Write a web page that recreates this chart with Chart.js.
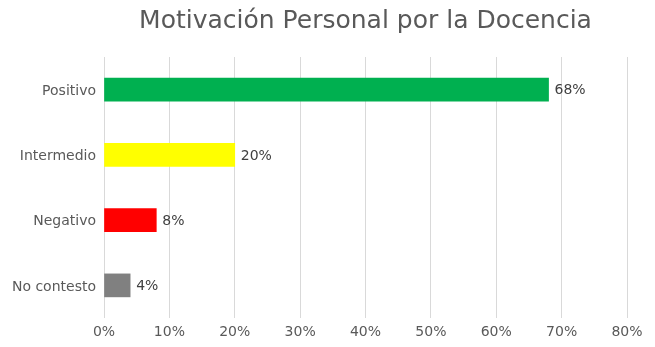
<!DOCTYPE html>
<html>
<head>
<meta charset="utf-8">
<script src="https://cdn.jsdelivr.net/npm/chart.js@4"></script>
<style>
  html, body { margin: 0; padding: 0; background: #fff; }
  #wrap { width: 655px; height: 347px; }
</style>
</head>
<body>
<div id="wrap"><canvas id="chart" width="655" height="347"></canvas></div>
<script>
// datos del gráfico
const chartTitle = 'Motivación Personal por la Docencia';
const categories = ['Positivo', 'Intermedio', 'Negativo', 'No contesto'];
const values = [68, 20, 8, 4];
const barColors = ['#00b050', '#ffff00', '#ff0000', '#808080'];
const xTicks = [0, 10, 20, 30, 40, 50, 60, 70, 80];

// título centrado sobre el área del gráfico
const plotTitle = {
  id: 'plotTitle',
  afterDraw(chart) {
    const ctx = chart.ctx;
    const area = chart.chartArea;
    ctx.save();
    ctx.font = '25px "DejaVu Sans"';
    ctx.fillStyle = '#595959';
    ctx.textAlign = 'center';
    ctx.textBaseline = 'middle';
    ctx.fillText(chartTitle, (area.left + area.right) / 2, 21);
    ctx.restore();
  }
};

// etiquetas de valor a la derecha de cada barra
const valueLabels = {
  id: 'valueLabels',
  afterDatasetsDraw(chart) {
    const ctx = chart.ctx;
    const meta = chart.getDatasetMeta(0);
    ctx.save();
    ctx.font = '14px "DejaVu Sans"';
    ctx.fillStyle = '#404040';
    ctx.textAlign = 'left';
    ctx.textBaseline = 'middle';
    meta.data.forEach((bar, i) => {
      ctx.fillText(values[i] + '%', bar.x + 6, bar.y + 1);
    });
    ctx.restore();
  }
};

new Chart(document.getElementById('chart'), {
  type: 'bar',
  data: {
    labels: categories,
    datasets: [{
      data: values,
      backgroundColor: barColors,
      borderWidth: 0,
      barThickness: 23
    }]
  },
  options: {
    indexAxis: 'y',
    responsive: false,
    animation: false,
    layout: { padding: { left: 0, right: 28, top: 57, bottom: 0 } },
    plugins: {
      legend: { display: false },
      tooltip: { enabled: false },
      title: { display: false }
    },
    scales: {
      x: {
        min: 0,
        max: 80,
        afterBuildTicks: axis => { axis.ticks = xTicks.map(v => ({ value: v })); },
        afterFit: axis => { axis.height = 29; },
        grid: { color: '#d9d9d9', drawTicks: false },
        border: { display: false },
        ticks: {
          padding: 6,
          color: '#595959',
          font: { family: 'DejaVu Sans', size: 14 },
          callback: v => v + '%'
        }
      },
      y: {
        afterFit: axis => { axis.width = 104; },
        grid: { display: false, drawTicks: false },
        border: { display: false },
        ticks: {
          padding: 8,
          labelOffset: 1.5,
          color: '#595959',
          font: { family: 'DejaVu Sans', size: 14 }
        }
      }
    }
  },
  plugins: [valueLabels, plotTitle]
});
</script>
</body>
</html>
